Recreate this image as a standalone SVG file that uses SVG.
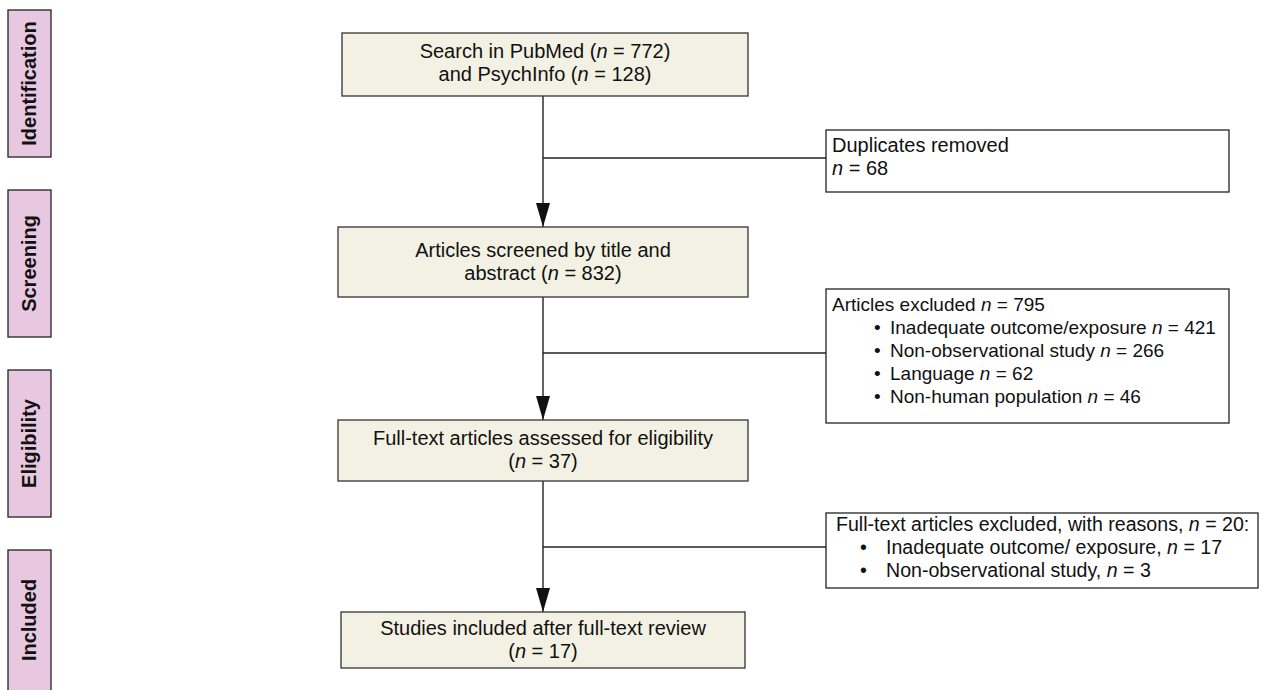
<svg xmlns="http://www.w3.org/2000/svg" width="1266" height="690" viewBox="0 0 1266 690">
<style>
.stage rect{fill:#e7c8e0;stroke:#222;stroke-width:1.3}
.stage text{font-family:"Liberation Sans",Arial,sans-serif;font-weight:bold;font-size:20px;fill:#111;text-anchor:middle}
.main rect{fill:#f2f1e3;stroke:#333;stroke-width:1.3}
.side rect{fill:#fff;stroke:#222;stroke-width:1.3}
text.t{font-family:"Liberation Sans",Arial,sans-serif;font-size:20px;fill:#111}
#excluded1 text.t{font-size:19px}
#excluded2 text.t{font-size:19.6px}
.c{text-anchor:middle}
.i{font-style:italic}
.conn line{stroke:#222;stroke-width:1.4}
</style>
<defs>
<marker id="arr" markerWidth="24" markerHeight="14" refX="24" refY="7" orient="auto" markerUnits="userSpaceOnUse" viewBox="0 0 24 14">
<path d="M0,0 L24,7 L0,14 Z" fill="#111"/>
</marker>
</defs>
<rect width="1266" height="690" fill="#fff"/>
<g id="stage-identification" class="stage"><rect x="8" y="10" width="43" height="147"/><text transform="translate(36,83.5) rotate(-90)">Identification</text></g>
<g id="stage-screening" class="stage"><rect x="8" y="190" width="43" height="147"/><text transform="translate(36,263.5) rotate(-90)">Screening</text></g>
<g id="stage-eligibility" class="stage"><rect x="8" y="370" width="43" height="147"/><text transform="translate(36,443.5) rotate(-90)">Eligibility</text></g>
<g id="stage-included" class="stage"><rect x="8" y="550" width="43" height="147"/><text transform="translate(36,620) rotate(-90)">Included</text></g>

<g id="conn">
<g class="conn">
<line x1="543" y1="96" x2="543" y2="227" marker-end="url(#arr)"/>
<line x1="543" y1="158" x2="826" y2="158"/>
<line x1="543" y1="297" x2="543" y2="420" marker-end="url(#arr)"/>
<line x1="543" y1="353" x2="826" y2="353"/>
<line x1="543" y1="481" x2="543" y2="612" marker-end="url(#arr)"/>
<line x1="543" y1="547" x2="826" y2="547"/>
</g>
</g>

<g id="search" class="main"><rect x="342" y="33" width="406" height="63"/>
<text class="t c" x="545" y="58">Search in PubMed (<tspan class="i">n</tspan> = 772)</text>
<text class="t c" x="545" y="81">and PsychInfo (<tspan class="i">n</tspan> = 128)</text></g>

<g id="duplicates" class="side"><rect x="826" y="130" width="403" height="62"/>
<text class="t" x="832" y="152">Duplicates removed</text>
<text class="t" x="832" y="175"><tspan class="i">n</tspan> = 68</text></g>

<g id="screened" class="main"><rect x="338" y="227" width="410" height="70"/>
<text class="t c" x="543" y="257">Articles screened by title and</text>
<text class="t c" x="543" y="280">abstract (<tspan class="i">n</tspan> = 832)</text></g>

<g id="excluded1" class="side"><rect x="826" y="289" width="403" height="134"/>
<text class="t" x="832" y="311">Articles excluded <tspan class="i">n</tspan> = 795</text>
<text class="t" x="874" y="334">•</text><text class="t" x="890" y="334">Inadequate outcome/exposure <tspan class="i">n</tspan> = 421</text>
<text class="t" x="874" y="357">•</text><text class="t" x="890" y="357">Non-observational study <tspan class="i">n</tspan> = 266</text>
<text class="t" x="874" y="380">•</text><text class="t" x="890" y="380">Language <tspan class="i">n</tspan> = 62</text>
<text class="t" x="874" y="403">•</text><text class="t" x="890" y="403">Non-human population <tspan class="i">n</tspan> = 46</text></g>

<g id="fulltext" class="main"><rect x="338" y="420" width="410" height="61"/>
<text class="t c" x="543" y="445">Full-text articles assessed for eligibility</text>
<text class="t c" x="543" y="468">(<tspan class="i">n</tspan> = 37)</text></g>

<g id="excluded2" class="side"><rect x="826" y="513" width="432" height="75"/>
<text class="t" x="836" y="531">Full-text articles excluded, with reasons, <tspan class="i">n</tspan> = 20:</text>
<text class="t" x="860" y="554">•</text><text class="t" x="886" y="554">Inadequate outcome/ exposure, <tspan class="i">n</tspan> = 17</text>
<text class="t" x="860" y="577">•</text><text class="t" x="886" y="577">Non-observational study, <tspan class="i">n</tspan> = 3</text></g>

<g id="included" class="main"><rect x="341" y="612" width="404" height="56"/>
<text class="t c" x="543" y="635">Studies included after full-text review</text>
<text class="t c" x="543" y="658">(<tspan class="i">n</tspan> = 17)</text></g>
</svg>
